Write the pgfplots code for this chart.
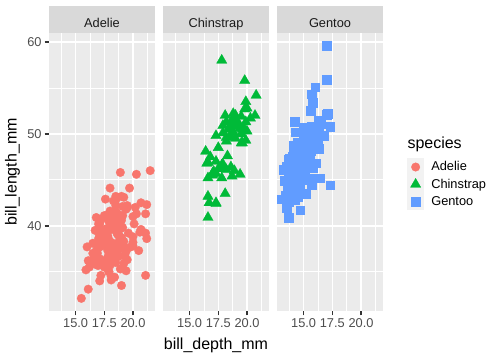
\documentclass[border=0pt]{standalone}
\usepackage{pgfplots}
\pgfplotsset{compat=1.18}
\usepackage{pgfplotstable}
\usepackage{fontspec}
\setmainfont{Liberation Sans}
\definecolor{gg92}{HTML}{EBEBEB}
\definecolor{gg85}{HTML}{D9D9D9}
\definecolor{gg95}{HTML}{F2F2F2}
\definecolor{gg30}{HTML}{4D4D4D}
\definecolor{gg20}{HTML}{333333}
\definecolor{gg10}{HTML}{1A1A1A}
\definecolor{cA}{HTML}{F8766D}
\definecolor{cC}{HTML}{00BA38}
\definecolor{cG}{HTML}{619CFF}

\pgfplotstableread{
len dep
39.1 18.7
39.5 17.4
40.3 18.0
36.7 19.3
39.3 20.6
38.9 17.8
39.2 19.6
34.1 18.1
42.0 20.2
37.8 17.1
37.8 17.3
41.1 17.6
38.6 21.2
34.6 21.1
36.6 17.8
38.7 19.0
42.5 20.7
34.4 18.4
46.0 21.5
37.8 18.3
37.7 18.7
35.9 19.2
38.2 18.1
38.8 17.2
35.3 18.9
40.6 18.6
40.5 17.9
37.9 18.6
40.5 18.9
39.5 16.7
37.2 18.1
39.5 17.8
40.9 18.9
36.4 17.0
39.2 21.1
38.8 20.0
42.2 18.5
37.6 19.3
39.8 19.1
36.5 18.0
40.8 18.4
36.0 18.5
44.1 19.7
37.0 16.9
39.6 18.8
41.1 19.0
37.5 18.9
36.0 17.9
42.3 21.2
39.6 17.7
40.1 18.9
35.0 17.9
42.0 19.5
34.5 18.1
41.4 18.6
39.0 17.5
40.6 18.8
36.5 16.6
37.6 19.1
35.7 16.9
41.3 21.1
37.6 17.0
41.1 18.2
36.4 17.1
41.6 18.0
35.5 16.2
41.1 19.1
35.9 16.6
41.8 19.4
33.5 19.0
39.7 18.4
39.6 17.2
45.8 18.9
35.5 17.5
42.8 18.5
40.9 16.8
37.2 19.4
36.2 16.1
42.1 19.1
34.6 17.2
42.9 17.6
36.7 18.8
35.1 19.4
37.3 17.8
41.3 20.3
36.3 19.5
36.9 18.6
38.3 19.2
38.9 18.8
35.7 18.0
41.1 18.1
34.0 17.1
39.6 18.1
36.2 17.3
40.8 18.9
38.1 18.6
40.3 18.5
33.1 16.1
43.2 18.5
35.0 17.9
41.0 20.0
37.7 16.0
37.8 20.0
37.9 18.6
39.7 18.9
38.6 17.2
38.2 20.0
38.1 17.0
43.2 19.0
38.1 16.5
45.6 20.3
39.7 17.7
42.2 19.5
39.6 20.7
42.7 18.3
38.6 17.0
37.3 20.5
35.7 17.0
41.1 18.6
36.2 17.2
37.7 19.8
40.2 17.0
41.4 18.5
35.2 15.9
40.6 19.0
38.8 17.6
41.5 18.3
39.0 17.1
44.1 18.0
38.5 17.9
43.1 19.2
36.8 18.5
37.5 18.5
38.1 17.6
41.1 17.5
35.6 17.5
40.2 20.1
37.0 16.5
39.7 17.9
40.2 17.1
40.6 17.2
32.1 15.5
40.7 17.0
37.3 16.8
39.0 18.7
39.2 18.6
36.6 18.4
36.0 17.8
37.8 18.1
36.0 17.1
41.5 18.5
}\adelie

\pgfplotstableread{
len dep
46.5 17.9
50.0 19.5
51.3 19.2
45.4 18.7
52.7 19.8
45.2 17.8
46.1 18.2
51.3 18.2
46.0 18.9
51.3 19.9
46.6 17.8
51.7 20.3
47.0 17.3
52.0 18.1
45.9 17.1
50.5 19.6
50.3 20.0
58.0 17.8
46.4 18.6
49.2 18.2
42.4 17.3
48.5 17.5
43.2 16.6
50.6 19.4
46.7 17.9
52.0 19.0
50.5 18.4
49.5 19.0
46.4 17.8
52.8 20.0
40.9 16.6
54.2 20.8
42.5 16.7
51.0 18.8
49.7 18.6
47.5 16.8
47.6 18.3
52.0 20.7
46.9 16.6
53.5 19.9
49.0 19.5
46.2 17.5
50.9 19.1
45.5 17.0
50.9 17.9
50.8 18.5
50.1 17.9
49.0 19.6
51.5 18.7
49.8 17.3
48.1 16.4
51.4 19.0
45.7 17.3
50.7 19.7
42.5 17.3
52.2 18.8
45.2 16.6
49.3 19.9
50.2 18.8
45.6 19.4
51.9 19.5
46.8 16.5
45.7 17.0
55.8 19.8
43.5 18.1
49.6 18.2
50.8 19.0
50.2 18.7
}\chinstrap

\pgfplotstableread{
len dep
46.1 13.2
50.0 16.3
48.7 14.1
50.0 15.2
47.6 14.5
46.5 13.5
45.4 14.6
46.7 15.3
43.3 13.4
46.8 15.4
40.9 13.7
49.0 16.1
45.5 13.7
48.4 14.6
45.8 14.6
49.3 15.7
42.0 13.5
49.2 15.2
46.2 14.5
48.7 15.1
50.2 14.3
45.1 14.5
46.5 14.5
46.3 15.8
42.9 13.1
46.1 15.1
44.5 14.3
47.8 15.0
48.2 14.3
50.0 15.3
47.3 15.3
42.8 14.2
45.1 14.5
59.6 17.0
49.1 14.8
48.4 16.3
42.6 13.7
44.4 17.3
44.0 13.6
48.7 15.7
42.7 13.7
49.6 16.0
45.3 13.7
49.6 15.0
50.5 15.9
43.6 13.9
45.5 13.9
50.5 15.9
44.9 13.3
45.2 15.8
46.6 14.2
48.5 14.1
45.1 14.4
50.1 15.0
46.5 14.4
45.0 15.4
43.8 13.9
45.5 15.0
43.2 14.5
50.4 15.3
45.3 13.8
46.2 14.9
45.7 13.9
54.3 15.7
45.8 14.2
49.8 16.8
46.2 14.4
49.5 16.2
43.5 14.2
50.7 15.0
47.7 15.0
46.4 15.6
48.2 15.6
46.5 14.8
46.4 15.0
48.6 16.0
47.5 14.2
51.1 16.3
45.2 13.8
45.2 16.4
49.1 14.5
52.5 15.6
47.4 14.6
50.0 15.9
44.9 13.8
50.8 17.3
43.4 14.4
51.3 14.2
47.5 14.0
52.1 17.0
47.5 15.0
52.2 17.1
45.5 14.5
49.5 16.1
44.5 14.7
50.8 15.7
49.4 15.8
46.9 14.6
48.4 14.4
51.1 16.5
48.5 15.0
55.9 17.0
47.2 15.5
49.1 15.0
47.3 13.8
46.8 16.1
41.7 14.7
53.4 15.8
43.3 14.0
48.1 15.1
50.5 15.2
49.8 15.9
43.5 15.2
51.5 16.3
46.2 14.1
55.1 16.0
44.5 15.7
48.8 16.2
47.2 13.7
46.8 14.3
50.4 15.7
45.2 14.8
49.9 16.1
}\gentoo

\pgfplotsset{
  keyimg/.style={legend image code/.code={
    \fill[gg95,draw=none] (0pt,-8.65pt) rectangle (17.3pt,8.65pt);
    \draw[mark repeat=2,mark phase=2] plot coordinates {(0pt,0pt) (8.65pt,0pt) (17.3pt,0pt)};}},
  sA/.style={only marks, color=cA, mark=*, mark size=4.3pt, mark options={draw=cA,fill=cA,line width=0.3pt}, keyimg},
  sC/.style={only marks, color=cC, mark=triangle*, mark size=6pt, mark options={draw=cC,fill=cC,line width=0.3pt}, keyimg},
  sG/.style={only marks, color=cG, mark=square*, mark size=4.3pt, mark options={draw=cG,fill=cG,line width=0.3pt}, keyimg},
  panel/.style={
    anchor=south west, scale only axis, width=106pt, height=278pt,
    xmin=12.68, xmax=21.92, ymin=30.725, ymax=60.975,
    axis background/.style={fill=gg92},
    axis line style={draw=none},
    grid=both,
    major grid style={white, line width=1.55pt},
    minor grid style={white, line width=0.78pt},
    xtick={15,17.5,20}, xticklabels={15.0,17.5,20.0},
    minor xtick={13.75,16.25,18.75,21.25},
    ytick={40,50,60}, minor ytick={35,45,55},
    tick align=outside, tick pos=left,
    major tick length=4.3pt, minor tick length=0pt,
    major tick style={gg20, line width=1.5pt},
    /pgf/number format/assume math mode=true,
    xticklabel style={font=\fontsize{12.8}{15}\selectfont, text=gg30, inner sep=0pt, yshift=-3pt},
    yticklabel style={font=\fontsize{12.8}{15}\selectfont, text=gg30, inner sep=0pt, xshift=-3pt},
    every axis title/.style={at={(0.5,1)}, anchor=south, fill=gg85, minimum width=106pt,
      minimum height=26.5pt, inner sep=0pt, text height=15.2pt, text depth=0pt,
      text=gg10, font=\fontsize{12.8}{15}\selectfont},
  }
}

\begin{document}
\begin{tikzpicture}[x=1pt,y=1pt]
\path[use as bounding box] (0pt,0pt) rectangle (504pt,360pt);

\begin{axis}[panel, at={(49pt,49pt)}, title={Adelie}, yticklabels={40,50,60}]
\addplot[sA] table[x=dep,y=len] {\adelie};
\end{axis}

\begin{axis}[panel, at={(163pt,49pt)}, title={Chinstrap}, yticklabels={}, y tick style={draw=none}]
\addplot[sC] table[x=dep,y=len] {\chinstrap};
\end{axis}

\begin{axis}[panel, at={(277pt,49pt)}, title={Gentoo}, yticklabels={}, y tick style={draw=none},
  legend style={at={(rel axis cs:1,0.549)}, anchor=north west, xshift=24pt,
    draw=none, fill=none, inner sep=0pt, outer sep=0pt, row sep=0pt, column sep=7pt,
    font=\fontsize{12.8}{15}\selectfont, nodes={inner sep=0pt}},
  legend cell align=left]
\addlegendimage{sA}\addlegendentry{Adelie}
\addlegendimage{sC}\addlegendentry{Chinstrap}
\addplot[sG] table[x=dep,y=len] {\gentoo};
\addlegendentry{Gentoo}
\end{axis}

\node[anchor=base west, inner sep=0pt, font=\fontsize{16}{19}\selectfont] at (407.3pt,211.7pt) {species};
\node[anchor=base, inner sep=0pt, font=\fontsize{16}{19}\selectfont] at (216pt,11pt) {bill\_depth\_mm};
\node[anchor=base, rotate=90, inner sep=0pt, font=\fontsize{16}{19}\selectfont] at (16.7pt,188pt) {bill\_length\_mm};
\end{tikzpicture}
\end{document}
